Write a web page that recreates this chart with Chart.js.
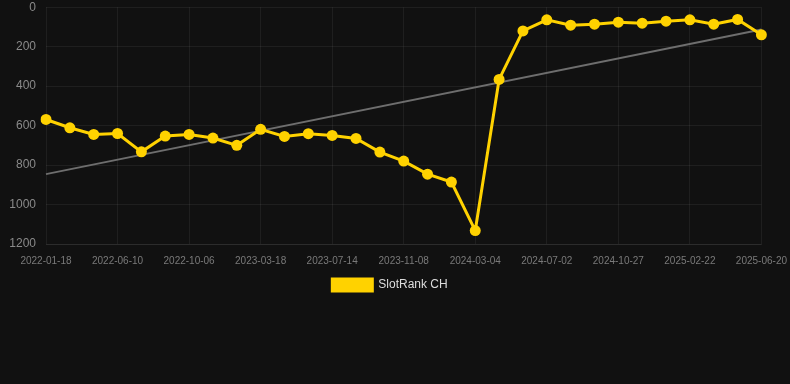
<!DOCTYPE html>
<html>
<head>
<meta charset="utf-8">
<script src="https://cdn.jsdelivr.net/npm/chart.js@4/dist/chart.umd.min.js"></script>
<style>
  html, body { margin: 0; padding: 0; background: #111111; }
  #wrap { position: relative; width: 790px; height: 301px; }
</style>
</head>
<body>
<div id="wrap"><canvas id="rankChart"></canvas></div>
<script>
// data
const dates = [
  '2022-01-18', '2022-03-06', '2022-04-23', '2022-06-10', '2022-07-19', '2022-08-28',
  '2022-10-06', '2022-11-30', '2023-01-23', '2023-03-18', '2023-04-26', '2023-06-04',
  '2023-07-14', '2023-08-22', '2023-09-30', '2023-11-08', '2023-12-17', '2024-01-25',
  '2024-03-04', '2024-04-13', '2024-05-23', '2024-07-02', '2024-08-10', '2024-09-18',
  '2024-10-27', '2024-12-05', '2025-01-13', '2025-02-22', '2025-04-01', '2025-05-11',
  '2025-06-20'
]
const rankCH = [
  569, 611, 645, 640, 733, 653, 645, 663, 700, 619, 655,
  641, 650, 665, 734, 780, 846, 886, 1132, 366, 120,
  64, 91, 86, 76, 81, 71, 64, 86, 62, 140
]
const trendEnds = [846, 113]
const yTicks = [0, 200, 400, 600, 800, 1000, 1200]

// trend line only has its two end points, the rest is spanned
const trendData = dates.map((d, i) => {
  if (i === 0) return trendEnds[0]
  if (i === dates.length - 1) return trendEnds[1]
  return null
})

const gridColor = 'rgba(255,255,255,0.06)'
const ctx = document.querySelector('#rankChart').getContext('2d')

new Chart(ctx, {
  type: 'line',
  data: {
    labels: dates,
    datasets: [
      {
        label: 'SlotRank CH',
        data: rankCH,
        borderColor: '#ffd200',
        backgroundColor: '#ffd200',
        borderWidth: 3,
        pointRadius: 5.5,
        pointHoverRadius: 5.5,
        pointBackgroundColor: '#ffd200',
        pointBorderWidth: 0,
        tension: 0,
        order: 1
      },
      {
        label: 'trend',
        data: trendData,
        spanGaps: true,
        borderColor: '#6e6e6e',
        borderWidth: 2,
        pointRadius: 0,
        fill: false,
        order: 2
      }
    ]
  },
  options: {
    responsive: true,
    maintainAspectRatio: false,
    animation: false,
    layout: { padding: { left: 0, right: 10, top: 0 } },
    plugins: {
      legend: {
        position: 'bottom',
        labels: {
          color: '#dddddd',
          boxWidth: 40,
          boxHeight: 12,
          padding: 9,
          font: { size: 12 },
          filter: item => item.text !== 'trend'
        }
      },
      tooltip: { enabled: false }
    },
    scales: {
      x: {
        grid: {
          color: c => (c.index % 3 === 0 ? gridColor : 'rgba(0,0,0,0)'),
          drawTicks: true,
          tickLength: 8,
          tickColor: 'rgba(0,0,0,0)'
        },
        border: { color: gridColor },
        ticks: {
          color: '#7a7a7a',
          font: { size: 10 },
          maxRotation: 0,
          autoSkip: false,
          padding: 3,
          callback: (v, i) => (i % 3 === 0 ? dates[i] : '')
        }
      },
      y: {
        reverse: true,
        min: 0,
        max: 1200,
        afterBuildTicks: axis => {
          axis.ticks = yTicks.map(v => ({ value: v }))
        },
        afterFit: axis => {
          axis.width = 46
        },
        grid: {
          color: gridColor,
          drawTicks: true,
          tickLength: 10,
          tickColor: 'rgba(0,0,0,0)'
        },
        border: { display: false },
        ticks: {
          color: '#8a8a8a',
          font: { size: 12 },
          padding: 0,
          callback: v => String(v)
        }
      }
    }
  }
})
</script>
</body>
</html>
